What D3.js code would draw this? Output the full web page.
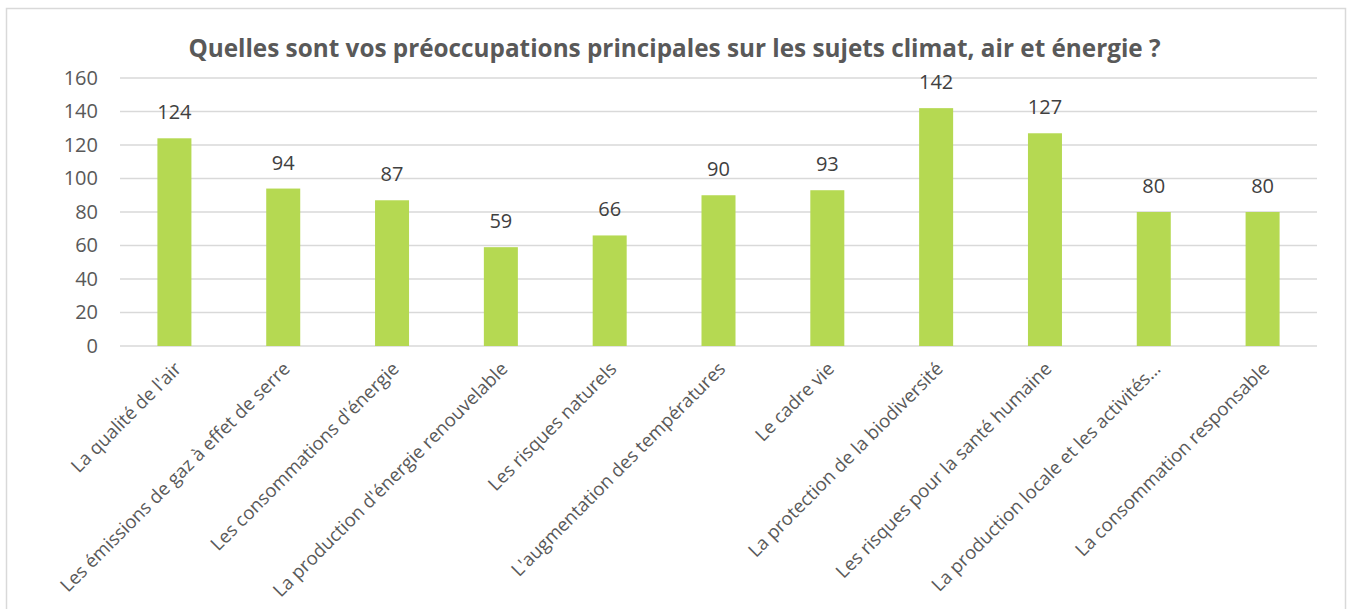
<!DOCTYPE html>
<html>
<head>
<meta charset="utf-8">
<script src="https://cdn.jsdelivr.net/npm/d3@7"></script>
<style>
  body { margin: 0; background: #fff; }
  svg { display: block; font-family: "Open Sans", sans-serif; }
</style>
</head>
<body>
<svg width="1349" height="609"></svg>
<script>
// Data ======================================================
var categories = [
  "La qualité de l'air",
  "Les émissions de gaz à effet de serre",
  "Les consommations d'énergie",
  "La production d'énergie renouvelable",
  "Les risques naturels",
  "L'augmentation des températures",
  "Le cadre vie",
  "La protection de la biodiversité",
  "Les risques pour la santé humaine",
  "La production locale et les activités…",
  "La consommation responsable"
];
var values = [124, 94, 87, 59, 66, 90, 93, 142, 127, 80, 80];
var yTicks = [0, 20, 40, 60, 80, 100, 120, 140, 160];
var title = "Quelles sont vos préoccupations principales sur les sujets climat, air et énergie ?";

// Layout ====================================================
var svg = d3.select("svg"),
    width = +svg.attr("width"),
    height = +svg.attr("height");

var plot = { left: 120, right: 1317, top: 78, bottom: 346 };

// outer frame
svg.append("rect")
  .attr("x", 6.5).attr("y", 8.5)
  .attr("width", 1339).attr("height", 620)
  .attr("fill", "none")
  .attr("stroke", "#d9d9d9")
  .attr("stroke-width", 1.5);

var x = d3.scaleBand()
  .domain(categories)
  .range([plot.left, plot.right])
  .padding(0);

var y = d3.scaleLinear()
  .domain([0, 160])
  .range([plot.bottom, plot.top]);

var barWidth = x.step() * 0.3125;

// grid lines
svg.append("g")
  .selectAll("line")
  .data(yTicks)
  .enter().append("line")
    .attr("x1", plot.left)
    .attr("x2", plot.right)
    .attr("y1", function(d) { return y(d); })
    .attr("y2", function(d) { return y(d); })
    .attr("stroke", "#d9d9d9")
    .attr("stroke-width", 1.5);

// y axis labels
var yAxis = svg.append("g")
  .attr("transform", "translate(" + plot.left + ",0)")
  .call(d3.axisLeft(y).tickValues(yTicks).tickSize(0).tickPadding(22));
yAxis.select(".domain").remove();
yAxis.selectAll("text")
  .attr("fill", "#595959")
  .attr("font-size", "20px")
  .attr("font-family", "'Open Sans', sans-serif");

// bars
svg.append("g")
  .selectAll("rect")
  .data(values)
  .enter().append("rect")
    .attr("x", function(d, i) { return x(categories[i]) + x.bandwidth() / 2 - barWidth / 2; })
    .attr("y", function(d) { return y(d); })
    .attr("width", barWidth)
    .attr("height", function(d) { return y(0) - y(d); })
    .attr("fill", "#b5d952");

// value labels
svg.append("g")
  .selectAll("text")
  .data(values)
  .enter().append("text")
    .attr("x", function(d, i) { return x(categories[i]) + x.bandwidth() / 2; })
    .attr("y", function(d) { return y(d) - 19; })
    .attr("text-anchor", "middle")
    .attr("fill", "#404040")
    .attr("font-size", "20px")
    .text(function(d) { return d; });

// category labels
svg.append("g")
  .selectAll("text")
  .data(categories)
  .enter().append("text")
    .attr("transform", function(d) {
      var cx = x(d) + x.bandwidth() / 2 + 8;
      return "translate(" + cx + "," + (plot.bottom + 24) + ") rotate(-45)";
    })
    .attr("text-anchor", "end")
    .attr("fill", "#595959")
    .attr("font-size", "18.5px")
    .text(function(d) { return d; });

// title
svg.append("text")
  .attr("x", width / 2)
  .attr("y", 57)
  .attr("text-anchor", "middle")
  .attr("fill", "#595959")
  .attr("font-size", "24.3px")
  .attr("font-weight", "bold")
  .text(title);
</script>
</body>
</html>
